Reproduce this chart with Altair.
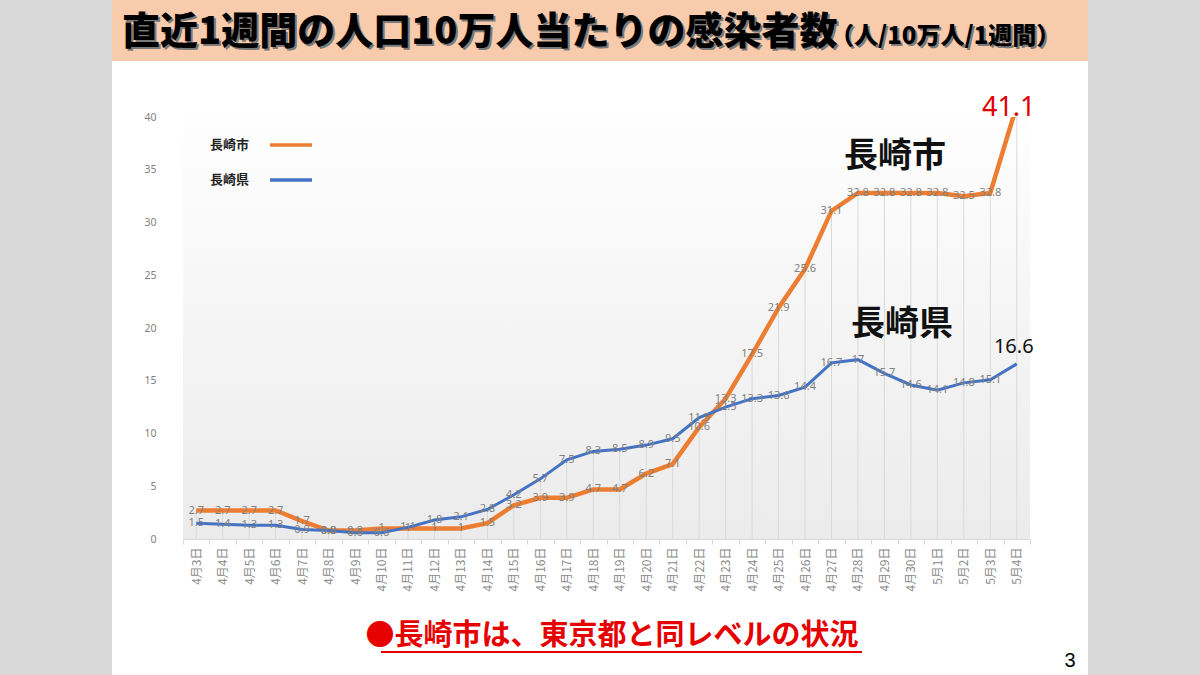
import altair as alt
import pandas as pd

# ---------------- data ----------------
dates = [f"4月{d}日" for d in range(3, 31)] + [f"5月{d}日" for d in range(1, 5)]
city = [2.7, 2.7, 2.7, 2.7, 1.7, 0.8, 0.8, 1.0, 1.0, 1.0, 1.0, 1.5, 3.2, 3.9, 3.9, 4.7,
        4.7, 6.2, 7.1, 10.6, 13.3, 17.5, 21.9, 25.6, 31.1, 32.8, 32.8, 32.8, 32.8, 32.5, 32.8, 41.1]
pref = [1.5, 1.4, 1.3, 1.3, 0.9, 0.8, 0.6, 0.6, 1.1, 1.8, 2.1, 2.8, 4.2, 5.7, 7.5, 8.3,
        8.5, 8.9, 9.5, 11.5, 12.5, 13.3, 13.6, 14.4, 16.7, 17.0, 15.7, 14.6, 14.1, 14.8, 15.1, 16.6]
series_names = ["長崎市", "長崎県"]
series_colors = ["#ED7D31", "#4472C4"]
y_ticks = [0, 5, 10, 15, 20, 25, 30, 35, 40]

title_main = "直近1週間の人口10万人当たりの感染者数"
title_sub = "（人/10万人/1週間）"
footer = "●長崎市は、東京都と同レベルの状況"
page_no = "3"

# ---------------- tables ----------------
rows = []
for name, vals in zip(series_names, [city, pref]):
    for i, (d, v) in enumerate(zip(dates, vals)):
        rows.append({"date": d, "series": name, "value": v,
                     "label": f"{v:g}", "last": i == len(dates) - 1})
df = pd.DataFrame(rows)
df_city = df[df.series == series_names[0]]
df_pref = df[df.series == series_names[1]]
df_drop = pd.DataFrame({"date": dates, "value": [max(a, b) for a, b in zip(city, pref)]})
one = pd.DataFrame({"a": [0]})

W, H = 847, 422
PL, PT = 183, 117

xs = alt.Scale(type="band", domain=dates, paddingInner=0, paddingOuter=0)
ys = alt.Scale(domain=[0, 40], nice=False, zero=True)

x_axis = alt.Axis(title=None, labelAngle=270, tickBand="extent", domainColor="#d9d9d9",
                  tickColor="#d9d9d9", tickSize=5, labelColor="#8a8a8a", labelFontSize=12,
                  labelFont="Noto Sans CJK JP", labelPadding=3, grid=False, zindex=1)
y_axis = alt.Axis(title=None, values=y_ticks, domain=False, ticks=False, grid=False,
                  labelColor="#808080", labelFontSize=10.5, labelFont="Noto Sans",
                  labelPadding=27, zindex=1)

X = alt.X("date:N", scale=xs, axis=x_axis, sort=dates)
Y = alt.Y("value:Q", scale=ys, axis=y_axis)


def box(x1, x2, y1, y2, **kw):
    return alt.Chart(one).mark_rect(**kw).encode(
        x=alt.value(x1 - PL), x2=alt.value(x2 - PL), y=alt.value(y1 - PT), y2=alt.value(y2 - PT))


def txt(s, x, y, **kw):
    return alt.Chart(one).mark_text(text=s, **kw).encode(x=alt.value(x - PL), y=alt.value(y - PT))


slide = box(112, 1088, 0, 675, color="white")
bar = box(112, 1088, 0, 61, color="#F8CBAD")
grad = box(PL, PL + W, 100, PT + H, color=alt.LinearGradient(
    gradient="linear", x1=0, x2=0, y1=0, y2=1,
    stops=[alt.GradientStop(color="#ffffff", offset=0),
           alt.GradientStop(color="#ebebeb", offset=1)]))

drops = alt.Chart(df_drop).mark_rule(color="#d9d9d9", strokeWidth=1, clip=True).encode(
    x=X, y=Y, y2=alt.Y2(datum=0))

line_city = alt.Chart(df_city).mark_line(color=series_colors[0], strokeWidth=4.5, clip=True).encode(x=X, y=Y)
line_pref = alt.Chart(df_pref).mark_line(color=series_colors[1], strokeWidth=3).encode(x=X, y=Y)

labels = alt.Chart(df[~df["last"]]).mark_text(
    color="#808080", fontSize=11, font="Noto Sans", baseline="middle").encode(x=X, y=Y, text="label:N")

last_city = alt.Chart(df_city[df_city["last"]]).mark_text(
    color="#E00000", fontSize=27, font="Noto Sans", baseline="middle", dx=-8, dy=3).encode(
    x=X, y=Y, text="label:N")
last_pref = alt.Chart(df_pref[df_pref["last"]]).mark_text(
    color="#111111", fontSize=20, font="Noto Sans", baseline="middle", dx=-3, dy=-17).encode(
    x=X, y=Y, text="label:N")

# legend
leg_df = pd.DataFrame({"series": series_names, "color": series_colors, "y": [145 - PT, 180 - PT]})
leg_text = alt.Chart(leg_df).mark_text(align="left", baseline="middle", fontSize=13, fontWeight="bold",
                                       font="Noto Sans CJK JP", color="#222222").encode(
    x=alt.value(210 - PL), y=alt.Y("y:Q", scale=None), text="series:N")
leg_line = alt.Chart(leg_df).mark_rule(strokeWidth=3.5).encode(
    x=alt.value(270 - PL), x2=alt.value(312 - PL), y=alt.Y("y:Q", scale=None),
    color=alt.Color("color:N", scale=None))

ann_city = txt(series_names[0], 895, 157, fontSize=34, fontWeight="bold", font="Noto Sans CJK JP",
               color="#111111", baseline="middle")
ann_pref = txt(series_names[1], 902, 325, fontSize=34, fontWeight="bold", font="Noto Sans CJK JP",
               color="#111111", baseline="middle")

title_shadow = txt(title_main, 124, 35, fontSize=38, fontWeight=900, font="Noto Sans CJK JP",
                   color="#7a7a7a", align="left", baseline="middle")
title = txt(title_main, 122, 33, fontSize=38, fontWeight=900, font="Noto Sans CJK JP",
            color="#000000", align="left", baseline="middle")
sub_shadow = txt(title_sub, 832, 39, fontSize=24, fontWeight=900, font="Noto Sans CJK JP",
                 color="#7a7a7a", align="left", baseline="middle")
sub = txt(title_sub, 830, 37, fontSize=24, fontWeight=900, font="Noto Sans CJK JP",
          color="#000000", align="left", baseline="middle")

foot = txt(footer, 612, 636, fontSize=29, fontWeight="bold", font="Noto Sans CJK JP",
           color="#E60000", baseline="middle")
underline = alt.Chart(one).mark_rule(color="#E60000", strokeWidth=2).encode(
    x=alt.value(381 - PL), x2=alt.value(862 - PL), y=alt.value(652 - PT))
page = txt(page_no, 1070, 661, fontSize=20, font="Liberation Sans", color="#000000", baseline="middle")

chart = alt.layer(
    slide, bar, grad, drops, line_city, line_pref, labels, last_city, last_pref,
    leg_line, leg_text, ann_city, ann_pref, title_shadow, title, sub_shadow, sub,
    foot, underline, page
).properties(
    width=W, height=H,
    padding={"left": PL, "top": PT, "right": 1200 - PL - W, "bottom": 675 - PT - H},
    autosize=alt.AutoSizeParams(type="none"),
    background="#d9d9d9",
).configure_view(stroke=None)

chart.save("out.html", embed_options={"renderer": "svg", "actions": False})
